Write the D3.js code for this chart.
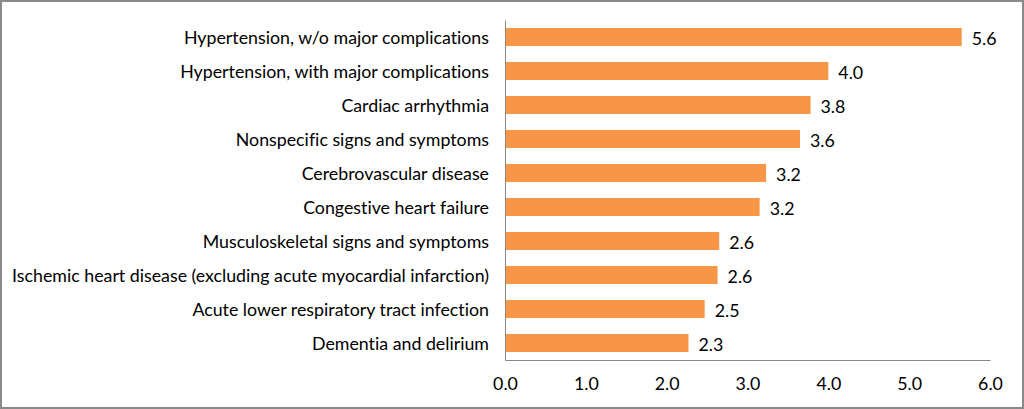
<!DOCTYPE html>
<html>
<head>
<meta charset="utf-8">
<script src="https://cdn.jsdelivr.net/npm/d3@7"></script>
<style>
  html, body { margin: 0; padding: 0; background: #fff; }
  svg { display: block; }
  text { font-family: Lato, "Open Sans", sans-serif; font-variant-ligatures: none; font-feature-settings: "liga" 0, "clig" 0, "dlig" 0; }
</style>
</head>
<body>
<svg id="chart" width="1024" height="409"></svg>
<script>
const categories = [
  "Hypertension, w/o major complications",
  "Hypertension, with major complications",
  "Cardiac arrhythmia",
  "Nonspecific signs and symptoms",
  "Cerebrovascular disease",
  "Congestive heart failure",
  "Musculoskeletal signs and symptoms",
  "Ischemic heart disease (excluding acute myocardial infarction)",
  "Acute lower respiratory tract infection",
  "Dementia and delirium"
];
const values = [5.65, 4.0, 3.78, 3.65, 3.23, 3.15, 2.65, 2.63, 2.47, 2.27];
const valueLabels = ["5.6", "4.0", "3.8", "3.6", "3.2", "3.2", "2.6", "2.6", "2.5", "2.3"];
const xTicks = [0, 1, 2, 3, 4, 5, 6];
const xTickLabels = ["0.0", "1.0", "2.0", "3.0", "4.0", "5.0", "6.0"];

const FS = 17.8;
const svg = d3.select("#chart");
const W = 1024, H = 409;

// outer frame
svg.append("rect")
  .attr("x", 1).attr("y", 1).attr("width", W - 2).attr("height", H - 2)
  .attr("fill", "#fff").attr("stroke", "#8a8a8a").attr("stroke-width", 2);

const x = d3.scaleLinear().domain([0, 6]).range([505, 990]);
const y = d3.scaleBand().domain(categories).range([20, 360]).paddingInner(0.47).paddingOuter(0.235);

const data = categories.map((c, i) => ({ c, v: values[i], l: valueLabels[i] }));

// bars
svg.append("g").selectAll("rect").data(data).join("rect")
  .attr("x", x(0))
  .attr("y", d => y(d.c))
  .attr("width", d => x(d.v) - x(0))
  .attr("height", y.bandwidth())
  .attr("fill", "#F79646");

// value labels
svg.append("g").selectAll("text").data(data).join("text")
  .attr("x", d => x(d.v) + 10)
  .attr("y", d => y(d.c) + y.bandwidth() / 2 + 1.5)
  .attr("dy", "0.35em")
  .attr("font-size", FS)
  .attr("fill", "#000")
  .text(d => d.l);

// category labels
svg.append("g").selectAll("text").data(data).join("text")
  .attr("x", x(0) - 16)
  .attr("y", d => y(d.c) + y.bandwidth() / 2 + 1)
  .attr("dy", "0.35em")
  .attr("text-anchor", "end")
  .attr("font-size", FS)
  .attr("fill", "#000")
  .text(d => d.c);

// x axis
const xAxis = d3.axisBottom(x).tickValues(xTicks).tickSize(0).tickPadding(17)
  .tickFormat((d, i) => xTickLabels[i]);
const gx = svg.append("g").attr("transform", "translate(0,360)").call(xAxis);
gx.select(".domain").attr("stroke", "#868686").attr("stroke-width", 1);
gx.selectAll("text").attr("font-size", FS).attr("fill", "#000")
  .style("font-family", "Lato, 'Open Sans', sans-serif");

// y axis line
const yAxis = d3.axisLeft(y).tickSize(0).tickFormat("");
const gy = svg.append("g").attr("transform", `translate(${x(0)},0)`).call(yAxis);
gy.select(".domain").attr("stroke", "#868686").attr("stroke-width", 1);
</script>
</body>
</html>
